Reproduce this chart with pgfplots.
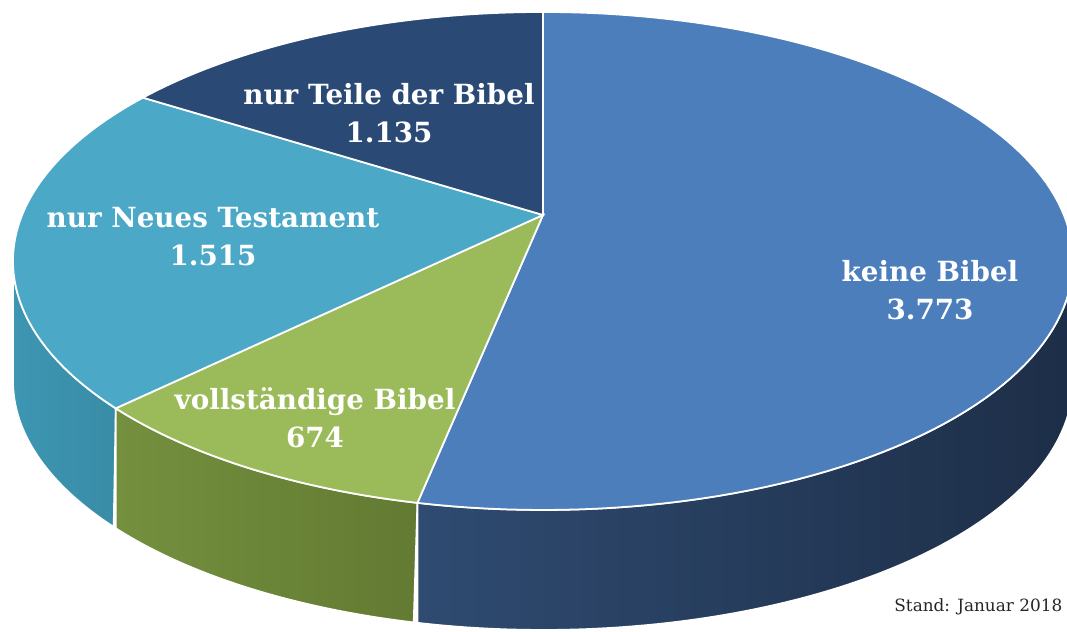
\documentclass[border=0pt]{standalone}
\usepackage{pgfplots}
\pgfplotsset{compat=1.18}
\usepackage{fontspec}
\setmainfont{DejaVu Serif}

\definecolor{cKeine}{HTML}{4C7EBB}
\definecolor{cVoll}{HTML}{9BBA59}
\definecolor{cNeu}{HTML}{4BA8C6}
\definecolor{cTeile}{HTML}{2A4A75}
\definecolor{wKeineL}{HTML}{2F4B71}
\definecolor{wKeineR}{HTML}{1D2E47}
\definecolor{wVollL}{HTML}{74903E}
\definecolor{wVollR}{HTML}{627A32}
\definecolor{wNeuL}{HTML}{3D96B2}
\definecolor{wNeuR}{HTML}{398CA6}

% data
\def\vKeine{3773}
\def\vVoll{674}
\def\vNeu{1515}
\def\vTeile{1135}

\pgfmathsetmacro{\tot}{\vKeine+\vVoll+\vNeu+\vTeile}
\pgfmathsetmacro{\aZero}{90}
\pgfmathsetmacro{\aOne}{\aZero-360*(\vKeine/\tot)}
\pgfmathsetmacro{\aTwo}{\aOne-360*(\vVoll/\tot)}
\pgfmathsetmacro{\aThree}{\aTwo-360*(\vNeu/\tot)}
\pgfmathsetmacro{\aFour}{\aThree-360*(\vTeile/\tot)}
% silhouette angles of the cylinder
\pgfmathsetmacro{\sR}{-asin(0.1847)}
\pgfmathsetmacro{\sL}{-180+asin(0.1847)}
\def\H{120}

\begin{document}
\begin{tikzpicture}[
  declare function={
    px(\t)=543+520.9*cos(\t)/(1+0.1847*sin(\t));
    py(\t)=417+240.5*sin(\t)/(1+0.1847*sin(\t));
    wphi(\s,\a,\b)=ifthenelse(\s<=1,\a+\s*(\b-\a),\b-(\s-1)*(\b-\a));
    woff(\s)=ifthenelse(\s<=1,0,\H);
  }]
\begin{axis}[
  width=10.67cm, height=6.32cm, scale only axis,
  xmin=0, xmax=1067, ymin=0, ymax=632,
  axis lines=none, clip=true,
]
% side walls
\addplot[left color=wNeuL, right color=wNeuR, draw=white, line width=0.5pt,
  domain=0:2, samples=201, variable=\s]
  ({px(wphi(\s,\sL,\aTwo))}, {py(wphi(\s,\sL,\aTwo))-woff(\s)}) -- cycle;
\addplot[left color=wVollL, right color=wVollR, draw=white, line width=0.5pt,
  domain=0:2, samples=201, variable=\s]
  ({px(wphi(\s,\aTwo,\aOne))}, {py(wphi(\s,\aTwo,\aOne))-woff(\s)}) -- cycle;
\addplot[left color=wKeineL, right color=wKeineR, draw=white, line width=0.5pt,
  domain=0:2, samples=201, variable=\s]
  ({px(wphi(\s,\aOne,\sR))}, {py(wphi(\s,\aOne,\sR))-woff(\s)}) -- cycle;
% top faces
\addplot[fill=cKeine, draw=white, line width=0.5pt, domain=\aOne:\aZero, samples=120]
  ({px(x)}, {py(x)}) -- (axis cs:543,417) -- cycle;
\addplot[fill=cVoll, draw=white, line width=0.5pt, domain=\aTwo:\aOne, samples=40]
  ({px(x)}, {py(x)}) -- (axis cs:543,417) -- cycle;
\addplot[fill=cNeu, draw=white, line width=0.5pt, domain=\aThree:\aTwo, samples=80]
  ({px(x)}, {py(x)}) -- (axis cs:543,417) -- cycle;
\addplot[fill=cTeile, draw=white, line width=0.5pt, domain=\aFour:\aThree, samples=60]
  ({px(x)}, {py(x)}) -- (axis cs:543,417) -- cycle;

% labels
\tikzset{lab/.style={text=white, align=center, inner sep=0pt,
  font=\fontsize{7.9}{10.8}\selectfont\bfseries}}
\node[lab] at (axis cs:389,518.5) {nur Teile der Bibel\\1.135};
\node[lab] at (axis cs:213,395) {nur Neues Testament\\1.515};
\node[lab] at (axis cs:315,214.5) {vollständige Bibel\\674};
\node[lab] at (axis cs:930,342) {keine Bibel\\3.773};
\node[anchor=east, inner sep=0pt, text=black!85,
  font=\fontsize{4.8}{6}\selectfont] at (axis cs:1063,25) {Stand: Januar 2018};
\end{axis}
\pgfresetboundingbox
\useasboundingbox (current axis.south west) rectangle (current axis.north east);
\end{tikzpicture}
\end{document}
